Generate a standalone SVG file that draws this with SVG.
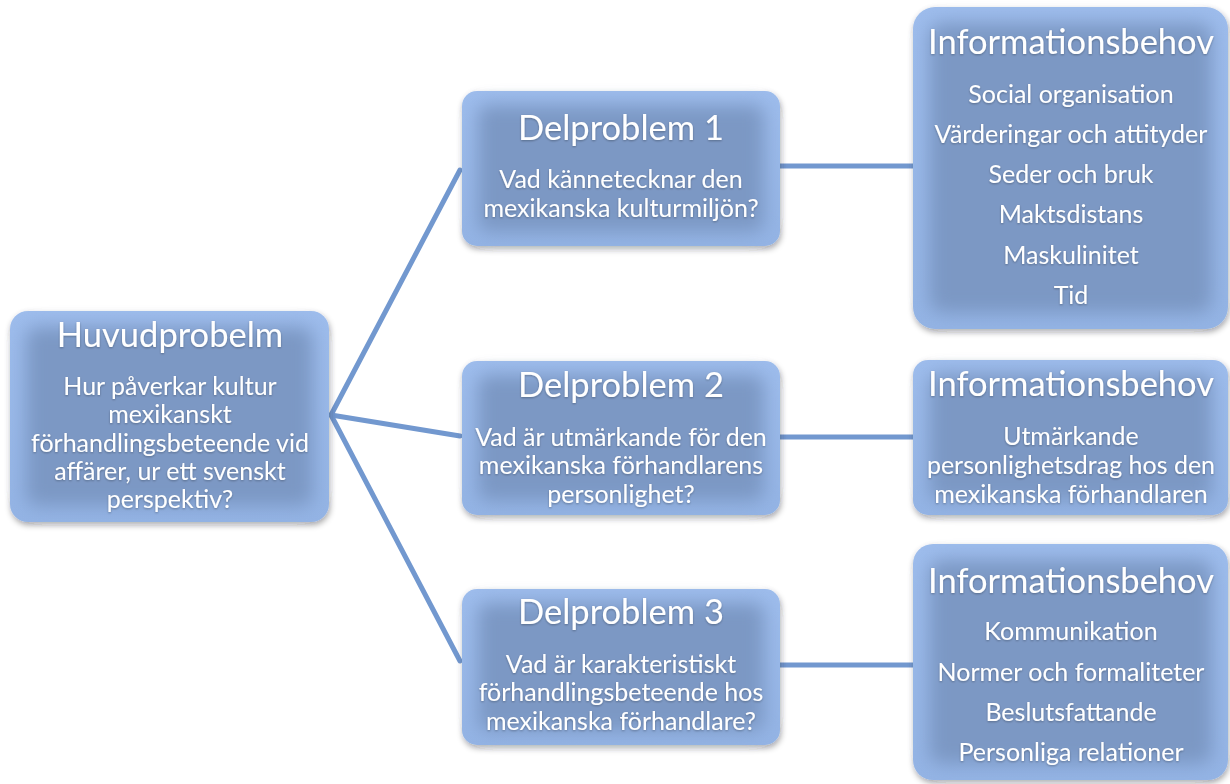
<svg xmlns="http://www.w3.org/2000/svg" width="1230" height="784" viewBox="0 0 1230 784">
  <defs>
    <!-- soft outer shadow plus a darker inset core for the rounded boxes -->
    <filter id="shadow" x="-10%" y="-10%" width="120%" height="125%">
      <feGaussianBlur in="SourceAlpha" stdDeviation="3"/>
      <feOffset dx="1" dy="3" result="b"/>
      <feComponentTransfer><feFuncA type="linear" slope="0.35"/></feComponentTransfer>
      <feMerge><feMergeNode/><feMergeNode in="SourceGraphic"/></feMerge>
    </filter>
    <filter id="core" x="-20%" y="-20%" width="140%" height="140%">
      <feGaussianBlur stdDeviation="9"/>
    </filter>
    <linearGradient id="edge" x1="0" y1="0" x2="0" y2="1">
      <stop offset="0" stop-color="#9dbcec"/>
      <stop offset="1" stop-color="#93b3e4"/>
    </linearGradient>
    <filter id="txt" x="-5%" y="-20%" width="110%" height="140%">
      <feGaussianBlur in="SourceAlpha" stdDeviation="1"/>
      <feOffset dx="0" dy="1"/>
      <feComponentTransfer><feFuncA type="linear" slope="0.3"/></feComponentTransfer>
      <feMerge><feMergeNode/><feMergeNode in="SourceGraphic"/></feMerge>
    </filter>
  </defs>
  <style>
    .edge { fill: url(#edge); }
    .core { fill: #7b98c4; filter: url(#core); }
    .t { font-family: Lato, "Liberation Sans", sans-serif; fill: #ffffff; text-anchor: middle; }
    .h { font-size: 34.5px; }
    .b { font-size: 25px; }
    .link { stroke: #7298cf; stroke-width: 5; fill: none; stroke-linecap: round; }
  </style>
  <rect width="1230" height="784" fill="#ffffff"/>

  <g id="connectors">
    <line class="link" x1="331" y1="415" x2="460" y2="170"/>
    <line class="link" x1="331" y1="415" x2="460" y2="436"/>
    <line class="link" x1="331" y1="415" x2="460" y2="661"/>
    <line class="link" x1="780" y1="166" x2="914" y2="166"/>
    <line class="link" x1="780" y1="437" x2="914" y2="437"/>
    <line class="link" x1="780" y1="665" x2="914" y2="665"/>
  </g>

  <g id="huvudproblem" filter="url(#shadow)">
    <rect class="edge" x="10" y="311" width="319" height="211" rx="18"/>
    <rect class="core" x="26" y="327" width="287" height="179" rx="12"/>
    <g class="t" filter="url(#txt)">
      <text class="h" x="170" y="347">Huvudprobelm</text>
      <text class="b" x="170" y="395">Hur påverkar kultur</text>
      <text class="b" x="170" y="423">mexikanskt</text>
      <text class="b" x="170" y="452">förhandlingsbeteende vid</text>
      <text class="b" x="170" y="480">affärer, ur ett svenskt</text>
      <text class="b" x="170" y="508">perspektiv?</text>
    </g>
  </g>

  <g id="delproblem1" filter="url(#shadow)">
    <rect class="edge" x="462" y="91" width="318" height="155" rx="15"/>
    <rect class="core" x="478" y="105" width="286" height="127" rx="10"/>
    <g class="t" filter="url(#txt)">
      <text class="h" x="621" y="140">Delproblem 1</text>
      <text class="b" x="621" y="188">Vad kännetecknar den</text>
      <text class="b" x="621" y="217">mexikanska kulturmiljön?</text>
    </g>
  </g>

  <g id="delproblem2" filter="url(#shadow)">
    <rect class="edge" x="462" y="361" width="318" height="154" rx="15"/>
    <rect class="core" x="478" y="375" width="286" height="126" rx="10"/>
    <g class="t" filter="url(#txt)">
      <text class="h" x="621" y="397">Delproblem 2</text>
      <text class="b" x="621" y="446">Vad är utmärkande för den</text>
      <text class="b" x="621" y="474">mexikanska förhandlarens</text>
      <text class="b" x="621" y="503">personlighet?</text>
    </g>
  </g>

  <g id="delproblem3" filter="url(#shadow)">
    <rect class="edge" x="462" y="589" width="318" height="156" rx="15"/>
    <rect class="core" x="478" y="603" width="286" height="128" rx="10"/>
    <g class="t" filter="url(#txt)">
      <text class="h" x="621" y="624">Delproblem 3</text>
      <text class="b" x="621" y="673">Vad är karakteristiskt</text>
      <text class="b" x="621" y="701">förhandlingsbeteende hos</text>
      <text class="b" x="621" y="730">mexikanska förhandlare?</text>
    </g>
  </g>

  <g id="informationsbehov1" filter="url(#shadow)">
    <rect class="edge" x="913" y="7" width="315" height="322" rx="22"/>
    <rect class="core" x="929" y="23" width="283" height="290" rx="14"/>
    <g class="t" filter="url(#txt)">
      <text class="h" x="1071" y="54">Informationsbehov</text>
      <text class="b" x="1071" y="103">Social organisation</text>
      <text class="b" x="1071" y="143">Värderingar och attityder</text>
      <text class="b" x="1071" y="183">Seder och bruk</text>
      <text class="b" x="1071" y="223">Maktsdistans</text>
      <text class="b" x="1071" y="264">Maskulinitet</text>
      <text class="b" x="1071" y="304">Tid</text>
    </g>
  </g>

  <g id="informationsbehov2" filter="url(#shadow)">
    <rect class="edge" x="913" y="360" width="315" height="155" rx="15"/>
    <rect class="core" x="929" y="374" width="283" height="127" rx="10"/>
    <g class="t" filter="url(#txt)">
      <text class="h" x="1071" y="396">Informationsbehov</text>
      <text class="b" x="1071" y="445">Utmärkande</text>
      <text class="b" x="1071" y="474">personlighetsdrag hos den</text>
      <text class="b" x="1071" y="503">mexikanska förhandlaren</text>
    </g>
  </g>

  <g id="informationsbehov3" filter="url(#shadow)">
    <rect class="edge" x="913" y="544" width="315" height="236" rx="20"/>
    <rect class="core" x="929" y="560" width="283" height="204" rx="13"/>
    <g class="t" filter="url(#txt)">
      <text class="h" x="1071" y="593">Informationsbehov</text>
      <text class="b" x="1071" y="640">Kommunikation</text>
      <text class="b" x="1071" y="681">Normer och formaliteter</text>
      <text class="b" x="1071" y="721">Beslutsfattande</text>
      <text class="b" x="1071" y="761">Personliga relationer</text>
    </g>
  </g>
</svg>
